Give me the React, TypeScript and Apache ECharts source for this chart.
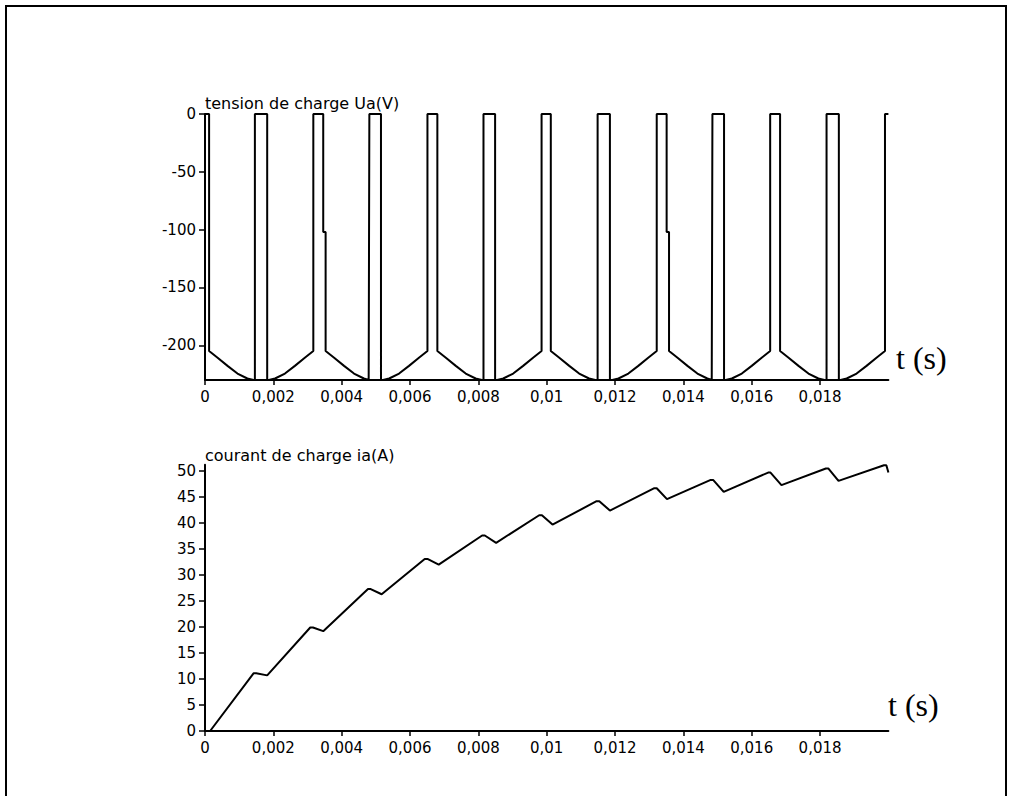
import React, { useEffect, useRef } from "react";
import * as echarts from "echarts";

// time ticks (s)
const tTicks = [0, 0.002, 0.004, 0.006, 0.008, 0.01, 0.012, 0.014, 0.016, 0.018];
const tTickLabels = ["0", "0,002", "0,004", "0,006", "0,008", "0,01", "0,012", "0,014", "0,016", "0,018"];
const uTicks = [0, -50, -100, -150, -200];
const iTicks = [0, 5, 10, 15, 20, 25, 30, 35, 40, 45, 50];

const uTitle = "tension de charge Ua(V)";
const iTitle = "courant de charge ia(A)";
const tLabel = "t (s)";

// load voltage Ua(V): [t, U]
const voltage: number[][] = [
  [0, 0], [0.00012, 0], [0.00012, -205],
  [0.00036, -210.6], [0.00066, -217.8], [0.00095, -224.4], [0.00124, -228.7], [0.00142, -230],
  [0.00146, -230], [0.00146, 0], [0.00182, 0], [0.00182, -230],
  [0.00187, -230], [0.00205, -228.7], [0.00234, -224.4], [0.00263, -217.8], [0.00293, -210.6], [0.00317, -205],
  [0.00317, 0], [0.00346, 0], [0.00346, -102], [0.00353, -102], [0.00353, -205],
  [0.00377, -210.6], [0.00407, -217.8], [0.00436, -224.4], [0.00465, -228.7], [0.00479, -230],
  [0.00481, -230], [0.00481, 0], [0.00515, 0], [0.00515, -230],
  [0.00521, -230], [0.00539, -228.7], [0.00568, -224.4], [0.00597, -217.8], [0.00627, -210.6], [0.00651, -205],
  [0.00651, 0], [0.0068, 0], [0.0068, -205],
  [0.00704, -210.6], [0.00734, -217.8], [0.00763, -224.4], [0.00792, -228.7], [0.0081, -230],
  [0.00815, -230], [0.00815, 0], [0.00849, 0], [0.00849, -230],
  [0.00855, -230], [0.00873, -228.7], [0.00902, -224.4], [0.00931, -217.8], [0.00961, -210.6], [0.00985, -205],
  [0.00985, 0], [0.01012, 0], [0.01012, -205],
  [0.01036, -210.6], [0.01066, -217.8], [0.01095, -224.4], [0.01124, -228.7], [0.01142, -230],
  [0.01149, -230], [0.01149, 0], [0.01185, 0], [0.01185, -230],
  [0.01192, -230], [0.0121, -228.7], [0.01239, -224.4], [0.01268, -217.8], [0.01298, -210.6], [0.01322, -205],
  [0.01322, 0], [0.01351, 0], [0.01351, -102], [0.01358, -102], [0.01358, -205],
  [0.01382, -210.6], [0.01412, -217.8], [0.01441, -224.4], [0.0147, -228.7], [0.01483, -230],
  [0.01485, -230], [0.01485, 0], [0.01519, 0], [0.01519, -230],
  [0.01524, -230], [0.01542, -228.7], [0.01571, -224.4], [0.016, -217.8], [0.0163, -210.6], [0.01654, -205],
  [0.01654, 0], [0.01683, 0], [0.01683, -205],
  [0.01707, -210.6], [0.01737, -217.8], [0.01766, -224.4], [0.01795, -228.7], [0.01813, -230],
  [0.01819, -230], [0.01819, 0], [0.01855, 0], [0.01855, -230],
  [0.0186, -230], [0.01878, -228.7], [0.01907, -224.4], [0.01936, -217.8], [0.01966, -210.6], [0.0199, -205],
  [0.0199, 0], [0.02, 0],
];

// load current ia(A): [t, i]
const current: number[][] = [
  [0, 0], [0.00015, 0], [0.00142, 11.1], [0.0015, 11.1], [0.00182, 10.7],
  [0.00308, 19.9], [0.00316, 19.9], [0.00346, 19.2],
  [0.00477, 27.3], [0.00485, 27.3], [0.00517, 26.3],
  [0.00643, 33.1], [0.00651, 33.1], [0.00684, 32.0],
  [0.00811, 37.6], [0.00819, 37.6], [0.00852, 36.2],
  [0.00978, 41.5], [0.00986, 41.5], [0.01017, 39.7],
  [0.01146, 44.2], [0.01154, 44.2], [0.01185, 42.4],
  [0.01315, 46.7], [0.01322, 46.7], [0.01352, 44.6],
  [0.0148, 48.3], [0.01487, 48.3], [0.01518, 46.0],
  [0.01648, 49.7], [0.01655, 49.7], [0.01687, 47.3],
  [0.01817, 50.5], [0.01824, 50.5], [0.01854, 48.1],
  [0.01987, 51.1], [0.01994, 51.1], [0.02, 49.7],
];

const FONT = "DejaVu Sans";

function tFormat(v: number) {
  const i = tTicks.findIndex((t) => Math.abs(t - v) < 1e-9);
  return i >= 0 ? tTickLabels[i] : "";
}

function xAxisOpt(gridIndex: number) {
  return {
    type: "value",
    gridIndex,
    min: 0,
    max: 0.02,
    axisLine: { show: true, onZero: false, lineStyle: { color: "#000", width: 2 } },
    axisTick: { show: true, length: 5, customValues: tTicks, lineStyle: { color: "#000", width: 1.5 } },
    axisLabel: {
      customValues: tTicks,
      formatter: tFormat,
      color: "#000",
      fontFamily: FONT,
      fontSize: 15,
      margin: 9,
    },
    splitLine: { show: false },
  };
}

export default function App() {
  const ref = useRef<HTMLDivElement>(null);
  useEffect(() => {
    document.body.style.margin = "0";
    const chart = echarts.init(ref.current!, null, { renderer: "svg" });
    chart.setOption({
      animation: false,
      backgroundColor: "#fff",
      grid: [
        { left: 205, top: 114, width: 683.4, height: 266 },
        { left: 205, top: 464.8, width: 683.4, height: 266.2 },
      ],
      xAxis: [xAxisOpt(0), xAxisOpt(1)],
      yAxis: [
        {
          type: "value",
          gridIndex: 0,
          min: -230,
          max: 0,
          axisLine: { show: true, onZero: false, lineStyle: { color: "#000", width: 2 } },
          axisTick: { show: true, length: 6, customValues: uTicks, lineStyle: { color: "#000", width: 1.5 } },
          axisLabel: { customValues: uTicks, color: "#000", fontFamily: FONT, fontSize: 15, margin: 9 },
          splitLine: { show: false },
        },
        {
          type: "value",
          gridIndex: 1,
          min: 0,
          max: 51.2,
          axisLine: { show: true, onZero: false, lineStyle: { color: "#000", width: 2 } },
          axisTick: { show: true, length: 6, customValues: iTicks, lineStyle: { color: "#000", width: 1.5 } },
          axisLabel: { customValues: iTicks, color: "#000", fontFamily: FONT, fontSize: 15, margin: 9 },
          splitLine: { show: false },
        },
      ],
      series: [
        {
          type: "line",
          xAxisIndex: 0,
          yAxisIndex: 0,
          data: voltage,
          showSymbol: false,
          clip: true,
          lineStyle: { color: "#000", width: 2 },
        },
        {
          type: "line",
          xAxisIndex: 1,
          yAxisIndex: 1,
          data: current,
          showSymbol: false,
          clip: true,
          lineStyle: { color: "#000", width: 2 },
        },
      ],
      graphic: [
        {
          type: "polyline",
          shape: { points: [[6, 800], [6, 6], [1006, 6], [1006, 800]] },
          style: { stroke: "#000", lineWidth: 2, fill: null },
        },
        {
          type: "text",
          x: 205,
          y: 103,
          style: { text: uTitle, fontFamily: FONT, fontSize: 16, fill: "#000", verticalAlign: "middle" },
        },
        {
          type: "text",
          x: 205,
          y: 455,
          style: { text: iTitle, fontFamily: FONT, fontSize: 16, fill: "#000", verticalAlign: "middle" },
        },
        {
          type: "text",
          x: 896,
          y: 358,
          style: { text: tLabel, fontFamily: "Liberation Serif", fontSize: 32, fill: "#000", verticalAlign: "middle" },
        },
        {
          type: "text",
          x: 888,
          y: 705,
          style: { text: tLabel, fontFamily: "Liberation Serif", fontSize: 32, fill: "#000", verticalAlign: "middle" },
        },
      ],
    });
    return () => chart.dispose();
  }, []);
  return <div ref={ref} style={{ position: "absolute", left: 0, top: 0, width: 1012, height: 796 }} />;
}
